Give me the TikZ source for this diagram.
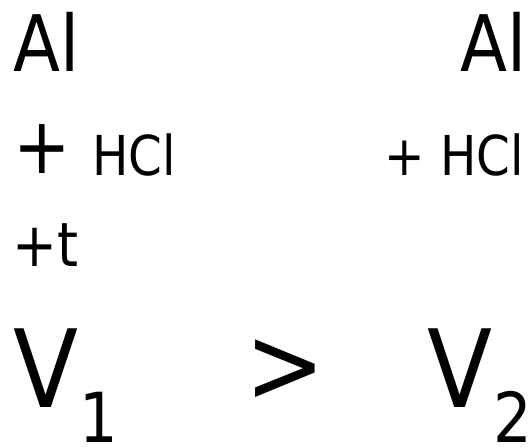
\documentclass[tikz,border=0pt]{standalone}
\usepackage{fontspec}
\setmainfont[FakeStretch=0.88]{DejaVu Sans}

\begin{document}
\begin{tikzpicture}[x=1pt,y=1pt,txt/.style={inner sep=0pt,anchor=base west},huge/.style={font=\fontsize{108}{110}\selectfont},big/.style={font=\fontsize{78}{80}\selectfont},mid/.style={font=\fontsize{61}{64}\selectfont},small/.style={font=\fontsize{55}{58}\selectfont},subs/.style={font=\fontsize{69}{72}\selectfont}]
  \useasboundingbox (0,0) rectangle (530,-447);
  \node[txt,big] (alL) at (13,-71) {Al};
  \node[txt,big,anchor=base east] (alR) at (527,-71) {Al};
  \node[txt,big] (plusL) at (13,-173) {+};
  \node[txt,small] (hclL) at (92,-175) {HCl};
  \node[txt,small,anchor=base east] (hclR) at (524,-175) {+ HCl};
  \node[txt,mid] (plusT) at (12,-266) {+t};
  \node[txt,huge] (vOne) at (13,-407) {V};
  \node[txt,subs] (subOne) at (79,-442) {1};
  \node[txt,huge,anchor=center] (gt) at (285,-371) {>};
  \node[txt,huge] (vTwo) at (427,-407) {V};
  \node[txt,subs] (subTwo) at (493,-442) {2};
\end{tikzpicture}
\end{document}
